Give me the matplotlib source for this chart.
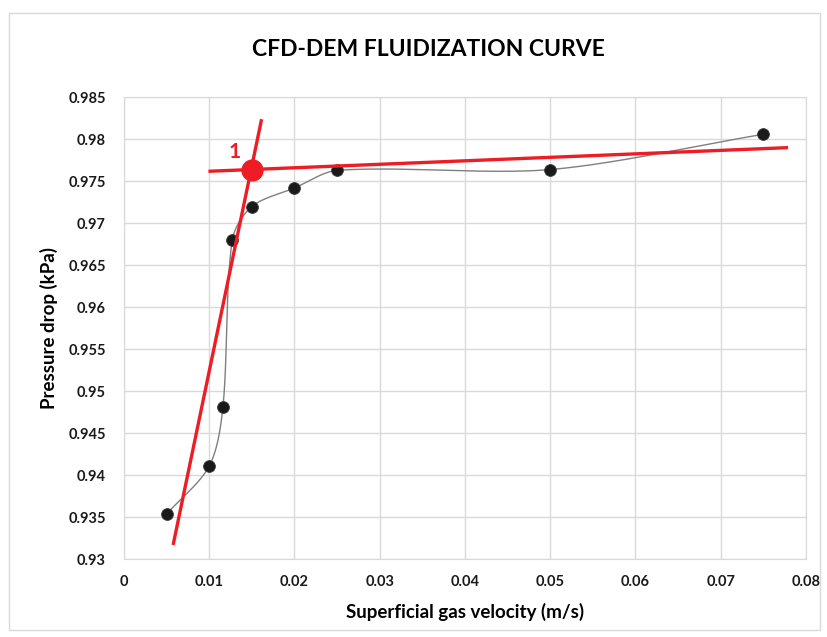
import numpy as np
import matplotlib.pyplot as plt
from matplotlib.patches import Rectangle

# data
#
velocity = [0.0050, 0.0100, 0.0116, 0.0127, 0.0150, 0.0200, 0.0250, 0.0500, 0.0750]
pressure = [0.9354, 0.9411, 0.9481, 0.9680, 0.9720, 0.9742, 0.9763, 0.9764, 0.9806]

# fitted lines (fluidized plateau / packed bed)
plateau_x = [0.0101, 0.0777]
plateau_y = [0.9762, 0.9790]
packed_x = [0.0058, 0.0161]
packed_y = [0.9319, 0.9822]

# minimum fluidization point
umf_x = [0.0150]
umf_y = [0.97636]
umf_label = '1'

x_ticks = np.arange(0, 0.0801, 0.01)
x_labels = ['0', '0.01', '0.02', '0.03', '0.04', '0.05', '0.06', '0.07', '0.08']
y_ticks = np.arange(0.93, 0.9851, 0.005)
y_labels = ['0.93', '0.935', '0.94', '0.945', '0.95', '0.955', '0.96',
            '0.965', '0.97', '0.975', '0.98', '0.985']

plt.rcParams['font.family'] = ['Lato', 'DejaVu Sans']
plt.rcParams['font.weight'] = 'bold'


def smooth(x, y, sx, sy, k=0.9, n=40):
  # smoothed line through the points (bezier, chord-length tangents, screen scale)
  p = np.column_stack([np.asarray(x) * sx, np.asarray(y) * sy])
  m = len(p)
  tang = np.zeros_like(p)
  for i in range(m):
    d = p[min(i + 1, m - 1)] - p[max(i - 1, 0)]
    tang[i] = d / np.hypot(*d)
  out = []
  for i in range(m - 1):
    p1, p2 = p[i], p[i + 1]
    L = np.hypot(*(p2 - p1)) * k / 3
    b1 = p1 + tang[i] * L
    b2 = p2 - tang[i + 1] * L
    t = np.linspace(0, 1, n)[:, None]
    seg = (1 - t) ** 3 * p1 + 3 * (1 - t) ** 2 * t * b1 + 3 * (1 - t) * t ** 2 * b2 + t ** 3 * p2
    out.append(seg)
  out = np.vstack(out)
  return out[:, 0] / sx, out[:, 1] / sy


# plot
#
fig = plt.figure(figsize=(8.28, 6.37), dpi=100)
ax = fig.add_axes([124 / 828, 1 - 559.3 / 637, 682 / 828, 462 / 637])

fig.patches.append(Rectangle((9 / 828, 7 / 637), 811 / 828, 617 / 637,
                             transform=fig.transFigure, fill=False,
                             edgecolor='#d9d9d9', linewidth=1))

sx, sy = 682 / 0.08, 462 / 0.055
cx, cy = smooth(velocity, pressure, sx, sy)
ax.plot(cx, cy, color='#7f7f7f', linewidth=1, zorder=3)
ax.plot(velocity, pressure, 'o', color='#1a1a1a', markersize=8.5,
        markeredgecolor='#3a3a3a', markeredgewidth=0.6, zorder=4)

ax.plot(plateau_x, plateau_y, color='#ee1c25', linewidth=2.4, zorder=5)
ax.plot(packed_x, packed_y, color='#ee1c25', linewidth=2.4, zorder=5)
ax.plot(umf_x, umf_y, 'o', color='#ee1c25', markersize=15, zorder=6)
ax.text(0.01295, 0.97849, umf_label, color='#ee1c25', fontsize=15,
        fontweight='bold', ha='center', va='center', zorder=6)

# axes
#
ax.set_xlim(0, 0.08)
ax.set_ylim(0.93, 0.985)
ax.set_xticks(x_ticks)
ax.set_xticklabels(x_labels)
ax.set_yticks(y_ticks)
ax.set_yticklabels(y_labels)
ax.tick_params(length=0, labelsize=10.5, colors='#1a1a1a')
ax.tick_params(axis='y', pad=13)
ax.tick_params(axis='x', pad=11)
ax.grid(True, color='#d9d9d9', linewidth=1)
ax.set_axisbelow(True)
for s in ax.spines.values():
  s.set_color('#d9d9d9')

# label
#
ax.set_xlabel('Superficial gas velocity (m/s)', fontsize=13.5, fontweight='bold')
ax.xaxis.set_label_coords(0.5, -0.095)
ax.set_ylabel('Pressure drop (kPa)', fontsize=13.5, fontweight='bold')
ax.yaxis.set_label_coords(-0.097, 0.5)
fig.text(428 / 828, 1 - 50 / 637, 'CFD-DEM FLUIDIZATION CURVE', fontsize=16.5,
         fontweight='bold', ha='center', va='center')

# output
#
plt.savefig('out.png', dpi=100)
